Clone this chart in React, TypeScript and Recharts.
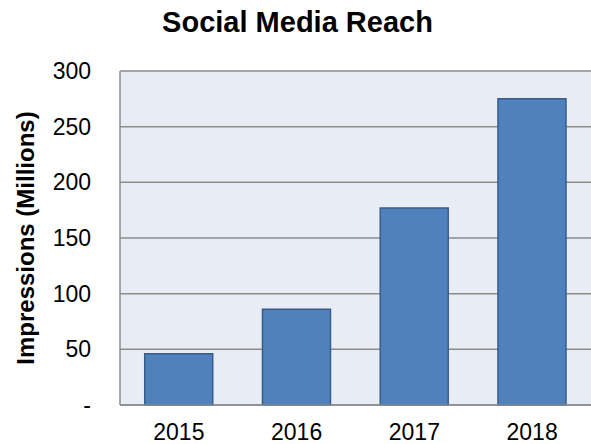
import React from 'react';
import { BarChart, Bar, XAxis, YAxis, CartesianGrid } from 'recharts';

const YEARS = ['2015', '2016', '2017', '2018'];
const IMPRESSIONS = [46, 86, 177, 275];
const Y_TICKS = [0, 50, 100, 150, 200, 250, 300];

const data = YEARS.map((year, i) => ({ year, impressions: IMPRESSIONS[i] }));

const FONT = '"Liberation Sans", Arial, sans-serif';

const YLabel = ({ viewBox }: any) => {
  const cx = 25;
  const cy = viewBox.y + viewBox.height / 2;
  return (
    <text
      x={cx}
      y={cy}
      transform={`rotate(-90, ${cx}, ${cy})`}
      textAnchor="middle"
      dominantBaseline="central"
      fontFamily={FONT}
      fontWeight="bold"
      fontSize={24}
      fill="#000"
    >
      Impressions (Millions)
    </text>
  );
};

export default function App() {
  return (
    <div style={{ position: 'relative', width: 591, height: 444, fontFamily: FONT }}>
      <style>{'body{margin:0}'}</style>
      <div
        style={{
          position: 'absolute',
          top: 6,
          left: 0,
          width: 595,
          textAlign: 'center',
          fontWeight: 'bold',
          fontSize: 29,
          color: '#000',
        }}
      >
        Social Media Reach
      </div>
      <BarChart
        width={591}
        height={444}
        data={data}
        margin={{ top: 71, right: 0, bottom: 9, left: 0 }}
        barCategoryGap="21%"
      >
        <CartesianGrid vertical={false} stroke="#8C8C8C" strokeWidth={1.5} fill="#E8ECF5" />
        <XAxis
          dataKey="year"
          height={30}
          axisLine={{ stroke: '#8C8C8C', strokeWidth: 1.5 }}
          tickLine={false}
          tick={{ fill: '#000', fontSize: 23, fontFamily: FONT }}
          tickMargin={13}
        />
        <YAxis
          width={120}
          domain={[0, 300]}
          ticks={Y_TICKS}
          interval={0}
          axisLine={{ stroke: '#8C8C8C', strokeWidth: 1.5 }}
          tickLine={false}
          tick={{ fill: '#000', fontSize: 23, fontFamily: FONT }}
          tickMargin={23}
          tickFormatter={(v: number) => (v === 0 ? '-' : String(v))}
          label={<YLabel />}
        />
        <Bar
          dataKey="impressions"
          fill="#4F81BD"
          stroke="#385D8A"
          strokeWidth={1.5}
          isAnimationActive={false}
        />
      </BarChart>
    </div>
  );
}
